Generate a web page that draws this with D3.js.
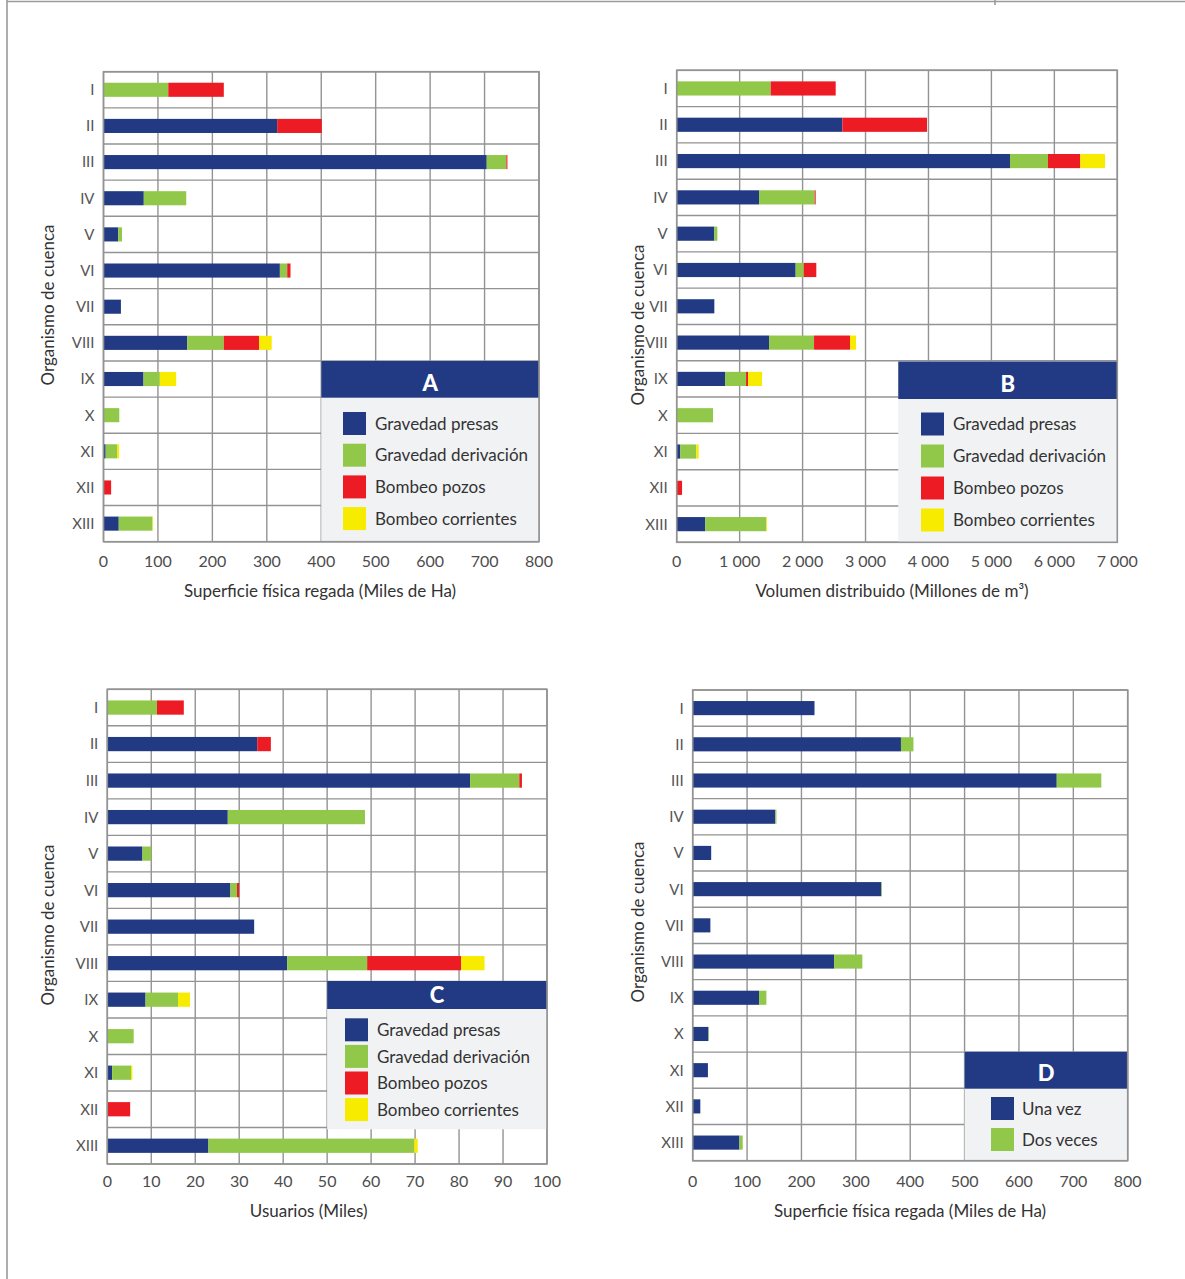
<!DOCTYPE html>
<html><head><meta charset="utf-8">
<script src="https://cdn.jsdelivr.net/npm/d3@7"></script>
<style>
html,body{margin:0;padding:0;background:#fff;}
svg{display:block;font-family:Lato,"Open Sans",sans-serif;}
</style></head>
<body>
<svg id="chart" width="1185" height="1279"></svg>
<script>
// ---------------- DATA ----------------
const categories = ["I","II","III","IV","V","VI","VII","VIII","IX","X","XI","XII","XIII"];

const seriesNames4 = ["Gravedad presas","Gravedad derivación","Bombeo pozos","Bombeo corrientes"];
const seriesNames2 = ["Una vez","Dos veces"];

// A: Superficie física regada (Miles de Ha)
const aGravedadPresas     = [0,319,704,74,27,324,32,154,73.5,0,4,0,28];
const aGravedadDerivacion = [119,0,36,78,7,13.5,0,67,30,29,21,0,62];
const aBombeoPozos        = [102,82,2,0,0,6,0,65,0,0,0,14,0];
const aBombeoCorrientes   = [0,0,0,0,0,0,0,23,30,0,3.5,0,1];

// B: Volumen distribuido (Millones de m3)
const bGravedadPresas     = [0,2632,5295,1308,598,1890,598,1467,768,0,58,0,455];
const bGravedadDerivacion = [1493,0,604,884,48,127,0,715,334,577,254,0,969];
const bBombeoPozos        = [1033,1345,514,16,0,201,0,572,32,0,0,85,0];
const bBombeoCorrientes   = [0,0,392,0,0,0,0,95,222,0,37,0,11];

// C: Usuarios (Miles)
const cGravedadPresas     = [0,34.1,82.5,27.4,8.0,28.0,33.4,40.9,8.7,0,1.1,0,23.0];
const cGravedadDerivacion = [11.3,0,11.2,31.2,2.0,1.5,0,18.2,7.4,6.0,4.3,0,46.8];
const cBombeoPozos        = [6.1,3.1,0.6,0,0,0.5,0,21.4,0,0,0,5.2,0];
const cBombeoCorrientes   = [0,0,0,0,0,0,0,5.3,2.7,0,0.3,0,0.8];

// D: Superficie física regada por número de riegos (Miles de Ha)
const dUnaVez   = [224,383,669.5,152,34,347,32.5,260,122,29,28,14,86];
const dDosVeces = [0,23,82,2,0,1,0,52,13.5,1,0,0,6];

const ticksA = [0,100,200,300,400,500,600,700,800];
const ticksB = [0,1000,2000,3000,4000,5000,6000,7000];
const ticksC = [0,10,20,30,40,50,60,70,80,90,100];
const ticksD = [0,100,200,300,400,500,600,700,800];

const colors4 = ["#213a83","#92c849","#ed1c24","#f7ec00"];
const colors2 = ["#213a83","#92c849"];

// ---------------- DRAW ----------------
const svg = d3.select("#chart");
const GRID = "#939393";

// page frame
svg.append("line").attr("x1",7).attr("x2",1185).attr("y1",1.5).attr("y2",1.5).attr("stroke","#9a9a9a").attr("stroke-width",1.6);
svg.append("line").attr("x1",7).attr("x2",7).attr("y1",0).attr("y2",1279).attr("stroke","#9a9a9a").attr("stroke-width",1.6);
svg.append("line").attr("x1",995).attr("x2",995).attr("y1",0).attr("y2",5).attr("stroke","#9a9a9a").attr("stroke-width",1.6);

function panel(cfg){
  const g = svg.append("g");
  const x = d3.scaleLinear().domain([0, cfg.ticks[cfg.ticks.length-1]]).range([cfg.x0, cfg.x1]);
  const n = categories.length;
  const y = d3.scaleBand().domain(categories).range([cfg.y0, cfg.y1]).paddingInner(0.61).paddingOuter(0.305);
  const step = y.step();

  // grid: horizontal row boundaries
  g.append("g").selectAll("line").data(d3.range(n+1)).join("line")
    .attr("x1",cfg.x0).attr("x2",cfg.x1)
    .attr("y1",i=>cfg.y0+i*step).attr("y2",i=>cfg.y0+i*step)
    .attr("stroke",GRID).attr("stroke-width",1.4);
  // grid: vertical at ticks
  g.append("g").selectAll("line").data(cfg.ticks).join("line")
    .attr("x1",d=>x(d)).attr("x2",d=>x(d))
    .attr("y1",cfg.y0).attr("y2",cfg.y1)
    .attr("stroke",GRID).attr("stroke-width",1.4);

  // stacked bars
  const rows = categories.map((c,i)=>{
    const o = {cat:c};
    cfg.series.forEach((s,j)=>{ o[cfg.names[j]] = s[i]; });
    return o;
  });
  const stack = d3.stack().keys(cfg.names)(rows);
  g.append("g").selectAll("g").data(stack).join("g")
    .attr("fill",(d,i)=>cfg.colors[i])
    .selectAll("rect").data(d=>d.filter(p=>p[1]-p[0]>0)).join("rect")
      .attr("x",p=>x(p[0])).attr("width",p=>x(p[1])-x(p[0]))
      .attr("y",p=>y(p.data.cat)).attr("height",y.bandwidth());

  // category labels
  g.append("g").selectAll("text").data(categories).join("text")
    .attr("x",cfg.x0-9).attr("y",d=>y(d)+y.bandwidth()/2)
    .attr("dy","0.36em").attr("text-anchor","end")
    .attr("font-size",15).attr("fill","#555").text(d=>d);

  // x tick labels
  g.append("g").selectAll("text").data(cfg.ticks).join("text")
    .attr("x",d=>x(d)).attr("y",cfg.tickY)
    .attr("text-anchor","middle").attr("font-size",16).attr("fill","#4d4d4d")
    .text(cfg.fmt);

  // x title
  g.append("text").attr("x",cfg.xTitleX).attr("y",cfg.xTitleY)
    .attr("text-anchor","middle").attr("font-size",17).attr("fill","#333")
    .text(cfg.xTitle);

  // y title
  g.append("text").attr("transform",`translate(${cfg.yTitleX},${cfg.yTitleY}) rotate(-90)`)
    .attr("text-anchor","middle").attr("font-size",17).attr("fill","#333")
    .text("Organismo de cuenca");

  // legend
  const L = cfg.legend;
  const lx0 = x(L.from);
  const lw = cfg.x1 - lx0;
  g.append("rect").attr("x",lx0).attr("y",L.top).attr("width",lw).attr("height",L.bottom-L.top).attr("fill","#f1f2f4");
  g.append("rect").attr("x",lx0).attr("y",L.top).attr("width",lw).attr("height",L.headH).attr("fill","#213a83");
  g.append("text").attr("x",lx0+lw/2).attr("y",L.top+L.headH-L.letterOff)
    .attr("text-anchor","middle").attr("font-size",22).attr("font-weight",900)
    .attr("fill","#fff").text(cfg.letter);
  const items = g.append("g").selectAll("g").data(cfg.names).join("g")
    .attr("transform",(d,i)=>`translate(${L.swX},${L.swY+i*L.gap})`);
  items.append("rect").attr("width",23).attr("height",23).attr("fill",(d,i)=>cfg.colors[i]);
  items.append("text").attr("x",L.txX-L.swX).attr("y",11.5).attr("dy","0.36em")
    .attr("font-size",17).attr("fill","#333").text(d=>d);

  // outer border
  g.append("rect").attr("x",cfg.x0).attr("y",cfg.y0).attr("width",cfg.x1-cfg.x0).attr("height",cfg.y1-cfg.y0)
    .attr("fill","none").attr("stroke",GRID).attr("stroke-width",1.6);
}

const fmtPlain = d=>String(d);
const fmtSpace = d=>d3.format(",")(d).replace(/,/g," ");

panel({
  x0:103.5,x1:539,y0:71.7,y1:541.7,ticks:ticksA,fmt:fmtPlain,tickY:567,
  series:[aGravedadPresas,aGravedadDerivacion,aBombeoPozos,aBombeoCorrientes],names:seriesNames4,colors:colors4,
  xTitle:"Superficie física regada (Miles de Ha)",xTitleX:320,xTitleY:597,yTitleX:54,yTitleY:305,
  letter:"A",
  legend:{from:400,top:361,bottom:541.7,headH:36.7,letterOff:6.5,swX:343,swY:412,gap:31.7,txX:375}
});
panel({
  x0:676.7,x1:1117.3,y0:70.3,y1:542.3,ticks:ticksB,fmt:fmtSpace,tickY:567,
  series:[bGravedadPresas,bGravedadDerivacion,bBombeoPozos,bBombeoCorrientes],names:seriesNames4,colors:colors4,
  xTitle:"Volumen distribuido (Millones de m³)",xTitleX:892,xTitleY:597,yTitleX:644,yTitleY:325,
  letter:"B",
  legend:{from:3520,top:361.5,bottom:542.3,headH:37.5,letterOff:7.5,swX:921,swY:412.5,gap:32,txX:953}
});
panel({
  x0:107.3,x1:547,y0:689.3,y1:1164,ticks:ticksC,fmt:fmtPlain,tickY:1187,
  series:[cGravedadPresas,cGravedadDerivacion,cBombeoPozos,cBombeoCorrientes],names:seriesNames4,colors:colors4,
  xTitle:"Usuarios (Miles)",xTitleX:308.7,xTitleY:1217,yTitleX:54,yTitleY:925,
  letter:"C",
  legend:{from:50,top:981,bottom:1129.3,headH:28,letterOff:6,swX:345,swY:1018.3,gap:26.6,txX:377}
});
panel({
  x0:692.7,x1:1127.7,y0:690,y1:1160.7,ticks:ticksD,fmt:fmtPlain,tickY:1187,
  series:[dUnaVez,dDosVeces],names:seriesNames2,colors:colors2,
  xTitle:"Superficie física regada (Miles de Ha)",xTitleX:910,xTitleY:1217,yTitleX:644,yTitleY:922,
  letter:"D",
  legend:{from:500,top:1051.7,bottom:1160.7,headH:37,letterOff:8,swX:991,swY:1097,gap:31,txX:1022}
});
</script>
</body></html>
